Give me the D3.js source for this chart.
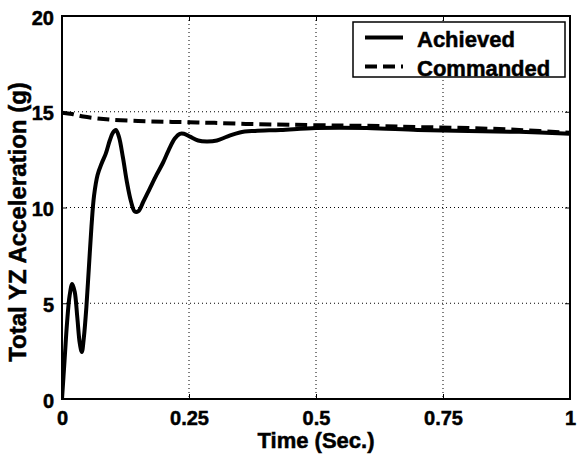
<!DOCTYPE html>
<html><head><meta charset="utf-8">
<script src="https://cdn.jsdelivr.net/npm/d3@7"></script>
<style>
html,body{margin:0;padding:0;background:#fff;}
svg{display:block;}
text{font-family:"Liberation Sans",Arial,Helvetica,sans-serif;font-weight:bold;fill:#000;stroke:#000;stroke-width:0.5px;}
</style></head><body>
<svg id="chart" width="579" height="454"></svg>
<script>
const xTicks = [0, 0.25, 0.5, 0.75, 1];
const xTickLabels = ["0", "0.25", "0.5", "0.75", "1"];
const yTicks = [0, 5, 10, 15, 20];
const yTickLabels = ["0", "5", "10", "15", "20"];
const seriesNames = ["Achieved", "Commanded"];

const achievedT = [0,0.005,0.010,0.015,0.020,0.025,0.030,0.035,0.039,0.043,0.048,0.053,0.058,0.063,0.070,0.078,0.086,0.094,0.100,0.106,0.112,0.120,0.128,0.136,0.143,0.150,0.160,0.173,0.186,0.199,0.210,0.222,0.232,0.240,0.252,0.268,0.285,0.305,0.325,0.350,0.380,0.43,0.5,0.6,0.7,0.8,0.9,1.0];
const achievedV = [0,2.0,4.0,5.4,6.0,5.6,4.3,2.9,2.45,3.2,4.8,6.9,9.0,10.6,11.7,12.3,12.8,13.5,13.9,14.05,13.7,12.6,11.3,10.3,9.8,9.8,10.3,11.0,11.7,12.35,13.0,13.6,13.85,13.85,13.7,13.5,13.45,13.5,13.7,13.92,14.0,14.05,14.15,14.15,14.05,14.0,13.95,13.85];

const commandedT = [0,0.02,0.042,0.07,0.1,0.15,0.2,0.25,0.3,0.37,0.45,0.55,0.63,0.7,0.8,0.9,1.0];
const commandedV = [14.95,14.88,14.75,14.65,14.58,14.52,14.48,14.45,14.42,14.36,14.32,14.28,14.25,14.2,14.15,14.05,13.9];

const svg = d3.select("#chart");
const L = 62, R = 570, T = 16, B = 399;
const x = d3.scaleLinear().domain([0, 1]).range([L, R]);
const y = d3.scaleLinear().domain([0, 20]).range([B, T]);

// grid
const g = svg.append("g");
g.selectAll(".vg").data(xTicks.slice(1, -1)).enter().append("line")
  .attr("x1", d => x(d)).attr("x2", d => x(d)).attr("y1", T).attr("y2", B)
  .attr("stroke", "#000").attr("stroke-width", 1).attr("stroke-dasharray", "1,3");
g.selectAll(".hg").data(yTicks.slice(1, -1)).enter().append("line")
  .attr("y1", d => y(d)).attr("y2", d => y(d)).attr("x1", L).attr("x2", R)
  .attr("stroke", "#000").attr("stroke-width", 1).attr("stroke-dasharray", "1,3");

// axes with inward ticks
const xAxis = d3.axisBottom(x).tickValues(xTicks).tickSize(-5).tickFormat((d, i) => xTickLabels[i]).tickPadding(12);
const xAxisTop = d3.axisTop(x).tickValues(xTicks).tickSize(-5).tickFormat("");
const yAxis = d3.axisLeft(y).tickValues(yTicks).tickSize(-5).tickFormat((d, i) => yTickLabels[i]).tickPadding(8);
const yAxisRight = d3.axisRight(y).tickValues(yTicks).tickSize(-5).tickFormat("");

const gx = svg.append("g").attr("transform", `translate(0,${B})`).call(xAxis);
const gxt = svg.append("g").attr("transform", `translate(0,${T})`).call(xAxisTop);
const gy = svg.append("g").attr("transform", `translate(${L},0)`).call(yAxis);
const gyr = svg.append("g").attr("transform", `translate(${R},0)`).call(yAxisRight);
[gx, gxt, gy, gyr].forEach(a => {
  a.select(".domain").remove();
  a.selectAll(".tick line").attr("stroke", "#000").attr("stroke-width", 1);
});
gx.selectAll("text").style("font-size", "20px").attr("dy", "0.72em");
gy.selectAll("text").style("font-size", "20px").attr("dy", "0.40em");

svg.append("rect").attr("x", L).attr("y", T).attr("width", R - L).attr("height", B - T)
  .attr("fill", "none").attr("stroke", "#000").attr("stroke-width", 2);

// lines
const line = d3.line().x(d => x(d[0])).y(d => y(d[1])).curve(d3.curveCatmullRom.alpha(0.5));
const cData = commandedT.map((t, i) => [t, commandedV[i]]);
const aData = achievedT.map((t, i) => [t, achievedV[i]]);
svg.append("clipPath").attr("id", "clip").append("rect")
  .attr("x", L).attr("y", T).attr("width", R - L).attr("height", B - T + 2);
svg.append("path").datum(cData).attr("d", line).attr("fill", "none")
  .attr("stroke", "#000").attr("stroke-width", 4).attr("stroke-dasharray", "12,6")
  .attr("clip-path", "url(#clip)");
svg.append("path").datum(aData).attr("d", line).attr("fill", "none")
  .attr("stroke", "#000").attr("stroke-width", 4).attr("stroke-linejoin", "round")
  .attr("clip-path", "url(#clip)");

// axis labels
svg.append("text").attr("x", (L + R) / 2).attr("y", 448).attr("text-anchor", "middle")
  .style("font-size", "22px").text("Time (Sec.)");
svg.append("text").attr("transform", `translate(26,${222}) rotate(-90)`).attr("text-anchor", "middle")
  .style("font-size", "24px").text("Total YZ Acceleration (g)");

// legend
const lg = svg.append("g");
lg.append("rect").attr("x", 353).attr("y", 22).attr("width", 212).attr("height", 55)
  .attr("fill", "#fff").attr("stroke", "#000").attr("stroke-width", 1.5);
const legY = [37.5, 66.5];
const dashes = [null, "12,6"];
seriesNames.forEach((n, i) => {
  lg.append("line").attr("x1", 365).attr("x2", 403).attr("y1", legY[i]).attr("y2", legY[i])
    .attr("stroke", "#000").attr("stroke-width", 4).attr("stroke-dasharray", dashes[i]);
  lg.append("text").attr("x", 417).attr("y", legY[i] + 9).style("font-size", "22px").text(n);
});
</script>
</body></html>
